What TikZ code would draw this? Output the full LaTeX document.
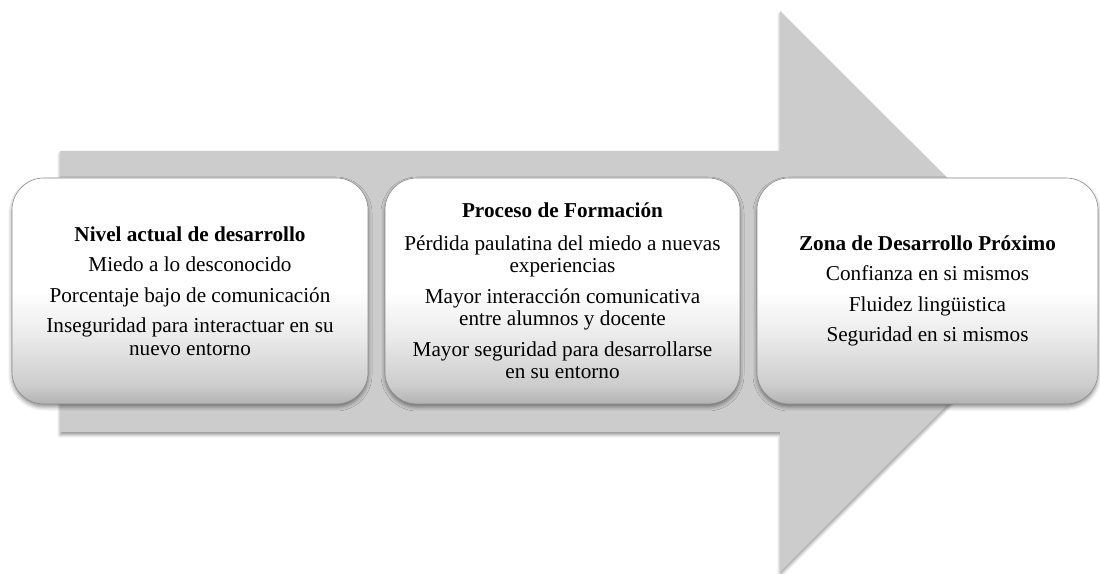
\documentclass[tikz,border=0pt]{standalone}
\usepackage{fontspec}
\setmainfont{Liberation Serif}
\usetikzlibrary{shadows.blur}
\pgfdeclareverticalshading{cajagris}{100bp}{color(0bp)=(black!30); color(25bp)=(black!30); color(29bp)=(black!20); color(40bp)=(black!8); color(50bp)=(white); color(100bp)=(white)}
\tikzset{
	flecha/.style={fill=black!20,blur shadow={shadow xshift=0pt,shadow yshift=-3pt,shadow blur radius=3pt,shadow opacity=40}},
	caja/.style={rounded corners=32pt,minimum height=226pt,draw=black!45,line width=0.6pt,shade,shading=cajagris,align=center,
		blur shadow={shadow xshift=0pt,shadow yshift=-3pt,shadow blur radius=4pt,shadow opacity=45},
		font=\fontsize{21.2}{22.5}\selectfont}
}
\begin{document}
\begin{tikzpicture}[x=1pt,y=1pt]
		\useasboundingbox (0,0) rectangle (1100,573);
		\path[flecha](60,141)--(60,422)--(780,422)--(780,562)--(1061,281.5)--(780,1)--(780,141)--cycle;
		\node[caja,minimum width=356pt] (nivel) at (190,282) {\textbf{Nivel actual de desarrollo}\\[8pt]
			Miedo a lo desconocido\\[8pt]
			Porcentaje bajo de comunicación\\[8pt]
			Inseguridad para interactuar en su\\ nuevo entorno};
		\node[caja,minimum width=355pt] (proceso) at (562.5,282) {\textbf{Proceso de Formación}\\[10pt]
			Pérdida paulatina del miedo a nuevas\\ experiencias\\[8pt]
			Mayor interacción comunicativa\\ entre alumnos y docente\\[8pt]
			Mayor seguridad para desarrollarse\\ en su entorno};
		\node[caja,minimum width=341pt] (zona) at (927.5,282) {\textbf{Zona de Desarrollo Próximo}\\[8pt]
			Confianza en si mismos\\[8pt]
			Fluidez lingüistica\\[8pt]
			Seguridad en si mismos};
	\end{tikzpicture}
\end{document}
